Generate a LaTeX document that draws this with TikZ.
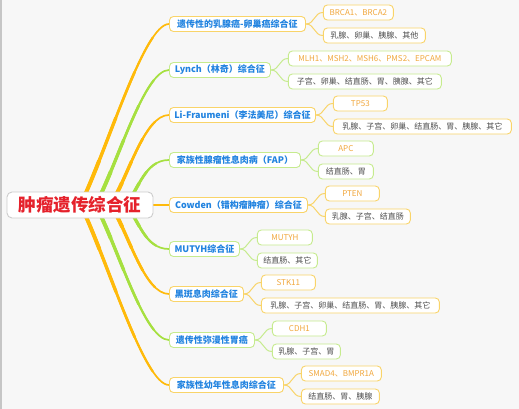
\documentclass[tikz,border=0pt]{standalone}
\usepackage{fontspec}
\setmainfont{Noto Sans CJK SC}
\usetikzlibrary{calc,positioning,backgrounds}
\definecolor{bgcol}{HTML}{F7F7F7}
\definecolor{brancho}{HTML}{FFBA0A}
\definecolor{branchg}{HTML}{A6E040}
\definecolor{bordero}{HTML}{F9D469}
\definecolor{borderg}{HTML}{C6EB8E}
\definecolor{titleblue}{HTML}{2183E0}
\definecolor{genecol}{HTML}{F1A73C}
\definecolor{organcol}{HTML}{4F4F4F}
\definecolor{rootred}{HTML}{E5212B}

\begin{document}
\begin{tikzpicture}[x=1pt,y=-1pt,
  box/.style={draw, fill=white, rounded corners=4pt, line width=0.9pt,
    minimum height=15pt, inner xsep=3pt, inner ysep=0pt},
  topic/.style={box, font=\fontsize{9}{10}\selectfont\bfseries, text=titleblue},
  gene/.style={box, font=\fontsize{8}{9}\selectfont, text=genecol},
  organ/.style={box, font=\fontsize{8}{9}\selectfont, text=organcol}]
\useasboundingbox (0,0) rectangle (519,409);
\begin{scope}[on background layer]
  \fill[bgcol] (0,0) rectangle (519,409);
  \draw[gray!45, line width=1.5pt] (1,0) -- (1,409);
\end{scope}

% root
\node[draw=gray!40, fill=white, rounded corners=5pt, line width=0.9pt,
  minimum width=146pt, minimum height=26pt,
  font=\fontsize{17.5}{20}\selectfont\bfseries, text=rootred] (root) at (80,205) {肿瘤遗传综合征};

% syndromes, genes, organs
\foreach \i/\y/\w/\tone/\lbl/\gn/\wg/\org/\wo in {
  1/24/136/o/遗传性的乳腺癌-卵巢癌综合征/BRCA1、BRCA2/70/乳腺、卵巢、胰腺、其他/102,
  2/70/101/g/Lynch（林奇）综合征/MLH1、MSH2、MSH6、PMS2、EPCAM/163/子宫、卵巢、结直肠、胃、胰腺、其它/153,
  3/115/146/o/Li-Fraumeni（李法美尼）综合征/TP53/54/乳腺、子宫、卵巢、结直肠、胃、胰腺、其它/178,
  4/160/131/g/家族性腺瘤性息肉病（FAP）/APC/55/结直肠、胃/55,
  5/205/138/o/Cowden（错构瘤肿瘤）综合征/PTEN/54/乳腺、子宫、结直肠/85,
  6/249/70/g/MUTYH综合征/MUTYH/55/结直肠、其它/60,
  7/294/74/o/黑斑息肉综合征/STK11/54/乳腺、子宫、卵巢、结直肠、胃、胰腺、其它/178,
  8/340/85/g/遗传性弥漫性胃癌/CDH1/54/乳腺、子宫、胃/68,
  9/385/114/o/家族性幼年性息肉综合征/SMAD4、BMPR1A/80/结直肠、胃、胰腺/78}{
  \node[topic, draw=border\tone, minimum width=\w, anchor=west] (topic\i) at (169,\y) {\lbl};
  \node[gene, draw=border\tone, minimum width=\wg, anchor=west] (gene\i) at ($(topic\i.east)+(17,-11.5)$) {\gn};
  \node[organ, draw=border\tone, minimum width=\wo, anchor=west] (organ\i) at ($(topic\i.east)+(17,11.5)$) {\org};
  % branch start under the root
  \coordinate (hub\i) at ({140-0.33*abs(\y-205)},205);
  \coordinate (c1) at ($(hub\i)!0.3!(topic\i.west)$);
  \coordinate (c2) at ($(topic\i.west)+(-25,0)$);
  \begin{scope}[on background layer]
    \draw[branch\tone, line width=1.7pt] (hub\i) .. controls (c1) and (c2) .. (topic\i.west);
    % thicker first parts of the same curve, for a taper
    \foreach \s/\lw in {0.8/2.2, 0.6/2.7, 0.4/3.3, 0.22/3.9} {
      \coordinate (q0) at ($(hub\i)!\s!(c1)$);
      \coordinate (q1) at ($(c1)!\s!(c2)$);
      \coordinate (q2) at ($(c2)!\s!(topic\i.west)$);
      \coordinate (r0) at ($(q0)!\s!(q1)$);
      \coordinate (r1) at ($(q1)!\s!(q2)$);
      \coordinate (mid) at ($(r0)!\s!(r1)$);
      \draw[branch\tone, line width=\lw pt, line cap=round] (hub\i) .. controls (q0) and (r0) .. (mid);
    }
    \draw[border\tone, line width=1pt] (topic\i.east) .. controls +(9,0) and +(-9,0) .. (gene\i.west);
    \draw[border\tone, line width=1pt] (topic\i.east) .. controls +(9,0) and +(-9,0) .. (organ\i.west);
  \end{scope}
}
\end{tikzpicture}
\end{document}
